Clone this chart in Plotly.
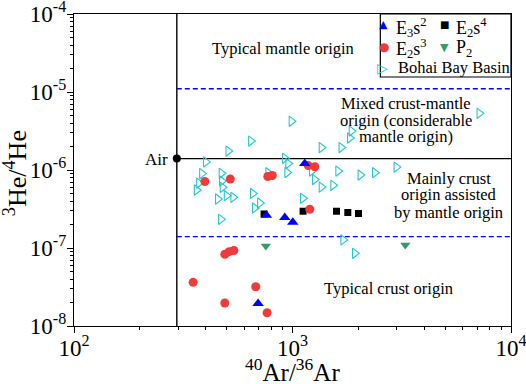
import plotly.graph_objects as go

# ---------------- data ----------------
e3s2_ar = [1138, 760, 922, 1003, 696]
e3s2_he = [1.21e-6, 2.62e-7, 2.46e-7, 2.14e-7, 1.95e-8]

e2s3_ar = [397, 519, 771, 808, 1181, 1265, 1200, 351, 490, 513, 539, 490, 679, 765]
e2s3_he = [7.13e-7, 7.67e-7, 8.26e-7, 8.5e-7, 1.14e-6, 1.10e-6, 3.14e-7,
           3.63e-8, 8.3e-8, 8.97e-8, 9.29e-8, 1.97e-8, 3.19e-8, 1.48e-8]

e2s4_ar = [741, 1118, 1590, 1791, 2005]
e2s4_he = [2.73e-7, 2.96e-7, 2.96e-7, 2.85e-7, 2.77e-7]

p2_ar = [755, 3283]
p2_he = [1.06e-7, 1.09e-7]

bohai_ar = [645, 508, 401, 385, 373, 364, 473, 475, 478, 455, 499, 535,
            658, 709, 672, 470, 989, 922, 955, 945, 773, 1115, 1225, 1265,
            1357, 1534, 1357, 1672, 1862, 1829, 1617, 2043, 2381, 2986, 7160,
            1705, 1928]
bohai_he = [2.35e-6, 1.75e-6, 1.27e-6, 9.0e-7, 6.8e-7, 5.54e-7, 9.07e-7,
            7.23e-7, 6.0e-7, 4.25e-7, 4.69e-7, 4.47e-7, 5.0e-7, 3.78e-7,
            3.26e-7, 2.33e-7, 4.21e-6, 1.41e-6, 1.21e-6, 9.29e-7, 9.23e-7,
            4.34e-7, 9.7e-7, 7.55e-7, 6.05e-7, 6.37e-7, 1.94e-6, 1.94e-6,
            3.16e-6, 2.57e-6, 9.7e-7, 8.63e-7, 9.23e-7, 1.09e-6, 5.33e-6,
            1.27e-7, 8.55e-8]

air_ar = [295.5]
air_he = [1.4e-6]
upper_boundary = 1.1e-5
lower_boundary = 1.4e-7
x_limits = [100, 10000]
y_limits = [1e-8, 1e-4]

x_tickvals = [100, 1000, 10000]
x_ticktext = ["10<sup>2</sup>", "10<sup>3</sup>", "10<sup>4</sup>"]
y_tickvals = [1e-8, 1e-7, 1e-6, 1e-5, 1e-4]
y_ticktext = ["10<sup>-8</sup>", "10<sup>-7</sup>", "10<sup>-6</sup>",
              "10<sup>-5</sup>", "10<sup>-4</sup>"]
x_minor = [m * 10 ** e for e in (2, 3) for m in range(2, 10)]
y_minor = [m * 10.0 ** e for e in (-8, -7, -6, -5) for m in range(2, 10)]

# ---------------- styles ----------------
FONT = "Liberation Serif"
BLUE = "#0000FF"
RED = "#EF3B3B"
GREEN = "#2E9E66"
CYAN = "#26C6CF"

fig = go.Figure()

# boundary lines
fig.add_trace(go.Scatter(x=[air_ar[0], air_ar[0]], y=y_limits, mode="lines",
                         line=dict(color="black", width=1.4), hoverinfo="skip", showlegend=False))
fig.add_trace(go.Scatter(x=[air_ar[0], x_limits[1]], y=[air_he[0], air_he[0]], mode="lines",
                         line=dict(color="black", width=1.4), hoverinfo="skip", showlegend=False))
for yb in (upper_boundary, lower_boundary):
    fig.add_trace(go.Scatter(x=[air_ar[0], x_limits[1]], y=[yb, yb], mode="lines",
                             line=dict(color=BLUE, width=1.4, dash="5px,3px"),
                             hoverinfo="skip", showlegend=False))

# data
fig.add_trace(go.Scatter(x=bohai_ar, y=bohai_he, mode="markers", name="Bohai Bay Basin",
                         marker=dict(symbol="triangle-right-open", size=9, color=CYAN,
                                     line=dict(width=1.1, color=CYAN)), showlegend=False))
fig.add_trace(go.Scatter(x=e2s4_ar, y=e2s4_he, mode="markers", name="E2s4",
                         marker=dict(symbol="square", size=7, color="black"), showlegend=False))
fig.add_trace(go.Scatter(x=e2s3_ar, y=e2s3_he, mode="markers", name="E2s3",
                         marker=dict(symbol="circle", size=9, color=RED), showlegend=False))
fig.add_trace(go.Scatter(x=e3s2_ar, y=e3s2_he, mode="markers", name="E3s2",
                         marker=dict(symbol="triangle-up", size=10, color=BLUE), showlegend=False))
fig.add_trace(go.Scatter(x=p2_ar, y=p2_he, mode="markers", name="P2",
                         marker=dict(symbol="triangle-down", size=9, color=GREEN), showlegend=False))
fig.add_trace(go.Scatter(x=air_ar, y=air_he, mode="markers", name="Air",
                         marker=dict(symbol="circle", size=8, color="black"), showlegend=False))

# ---------------- annotations ----------------
def ann(text, x, y, size=16.5, xanchor="center", color="black", family=FONT, angle=0):
    fig.add_annotation(text=text, x=x, y=y, xref="paper", yref="paper",
                       xanchor=xanchor, yanchor="middle", showarrow=False, textangle=angle,
                       font=dict(family=family, size=size, color=color))

ann("Typical mantle origin", 0.478, 0.891)
ann("Mixed crust-mantle", 0.760, 0.713)
ann("origin (considerable", 0.760, 0.660)
ann("mantle origin)", 0.760, 0.606)
ann("Mainly crust", 0.858, 0.474)
ann("origin assisted", 0.858, 0.420)
ann("by mantle origin", 0.858, 0.365)
ann("Typical crust origin", 0.567, 0.119, xanchor="left")
ann("Air", 0.219, 0.535, size=17, xanchor="right")

# axis titles
ann("<sup>40</sup>Ar/<sup>36</sup>Ar", 0.500, -0.14, size=25)
ann("<sup>3</sup>He/<sup>4</sup>He", -0.135, 0.49, size=26, angle=-90)

# legend box
fig.add_shape(type="rect", xref="paper", yref="paper", x0=0.701, x1=1.0, y0=0.798, y1=1.0,
              line=dict(color="black", width=1.2), fillcolor="white", layer="above")
SYM = "DejaVu Sans"
ann("▲", 0.709, 0.965, size=11, color=BLUE, family=SYM)
ann("■", 0.847, 0.965, size=10, color="black", family=SYM)
ann("●", 0.709, 0.894, size=12, color=RED, family=SYM)
ann("▼", 0.847, 0.894, size=11, color=GREEN, family=SYM)
ann("▷", 0.707, 0.827, size=14, color=CYAN, family=SYM)
ann("E<sub>3</sub>s<sup>2</sup>", 0.732, 0.958, size=18, xanchor="left")
ann("E<sub>2</sub>s<sup>4</sup>", 0.869, 0.958, size=18, xanchor="left")
ann("E<sub>2</sub>s<sup>3</sup>", 0.732, 0.888, size=18, xanchor="left")
ann("P<sub>2</sub>", 0.869, 0.888, size=18, xanchor="left")
ann("Bohai Bay Basin", 0.736, 0.829, size=16.5, xanchor="left")

axis_common = dict(type="log", showgrid=False, zeroline=False, showline=True,
                   linecolor="black", linewidth=1.4, mirror=True, automargin=False,
                   ticks="outside", ticklen=6, tickwidth=1.2, tickcolor="black",
                   ticklabeloverflow="allow",
                   tickfont=dict(family=FONT, size=23, color="black"))

fig.update_layout(
    template="none",
    width=526, height=384,
    margin=dict(l=74, r=15, t=14, b=58, pad=0),
    paper_bgcolor="white", plot_bgcolor="white",
    font=dict(family=FONT, color="black"),
    xaxis=dict(axis_common, range=[1.99999, 4.00001], tickmode="array", tickvals=x_tickvals,
               ticktext=x_ticktext, ticklabelstandoff=-5,
               minor=dict(tickmode="array", tickvals=x_minor, ticks="outside", ticklen=3,
                          tickwidth=1, tickcolor="black", showgrid=False)),
    yaxis=dict(axis_common, range=[-8.00001, -3.99999], tickmode="array", tickvals=y_tickvals,
               ticktext=y_ticktext, ticklabelstandoff=-4,
               minor=dict(tickmode="array", tickvals=y_minor, ticks="outside", ticklen=3,
                          tickwidth=1, tickcolor="black", showgrid=False)),
    showlegend=False,
)

# remove the browser's default 8 px page margin so the figure fills the window
fig.write_html("out.html", config={"displayModeBar": False},
               post_script="document.body.style.margin='0px';")
